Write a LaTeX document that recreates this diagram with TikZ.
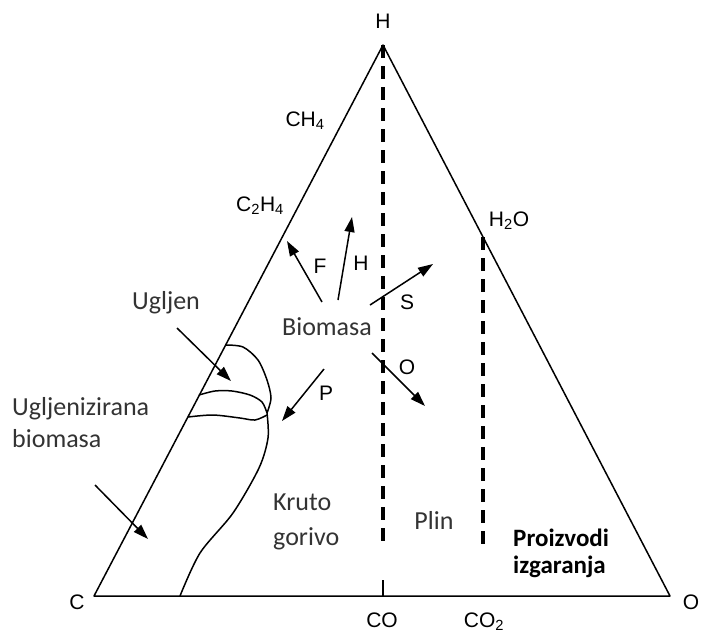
\documentclass[tikz,border=0pt]{standalone}
\usepackage{fontspec}
\setmainfont{Carlito}
\newfontfamily\arialfont{Liberation Sans}
\usetikzlibrary{arrows.meta}

\begin{document}
\begin{tikzpicture}[x=1pt,y=-1pt,
    edge/.style={line width=1.5pt, line join=round},
    sep/.style={line width=3.2pt, dash pattern=on 13pt off 8pt},
    arr/.style={line width=1.5pt, -{Triangle[length=15pt,width=10pt]}},
    lbl/.style={font=\arialfont\fontsize{21}{24}\selectfont, inner sep=0pt},
    txt/.style={font=\fontsize{26}{32}\selectfont, text=black!80, inner sep=0pt, align=left}]
    \useasboundingbox (0,0) rectangle (701,633);

    % Corners of the triangle
    \coordinate (Hv) at (383,45);
    \coordinate (Cv) at (94,596);
    \coordinate (Ov) at (670,596);
    \draw[edge] (Cv) -- (Hv) -- (Ov) -- cycle;

    % Corner labels
    \node[lbl] (hlab) at (383,21) {H};
    \node[lbl] (clab) at (77,602) {C};
    \node[lbl] (olab) at (691,602) {O};

    % Gas points on the sides
    \node[lbl] (ch4) at (305,121) {CH\textsubscript{4}};
    \node[lbl] (c2h4) at (260,206) {C\textsubscript{2}H\textsubscript{4}};
    \node[lbl] (h2o) at (509,221) {H\textsubscript{2}O};
    \coordinate (coTop) at (383,580);
    \coordinate (coBot) at (383,596);
    \draw[edge] (coTop) -- (coBot);
    \node[lbl] (co) at (382,620) {CO};
    \node[lbl] (co2) at (484,622) {CO\textsubscript{2}};

    % Dashed dividing lines
    \coordinate (midBot) at (383,547);
    \coordinate (h2oTop) at (483,237);
    \coordinate (h2oBot) at (483,547);
    \draw[sep] (Hv) -- (midBot);
    \draw[sep] (h2oTop) -- (h2oBot);

    % Solid fuel region
    \draw[edge] plot[smooth] coordinates {(180,596) (200,553) (233,513) (259,468) (268,438) (267,413)};
    \draw[edge] plot[smooth] coordinates {(225,345) (243,347) (258,360) (267,380) (271,398) (267,413)};
    \draw[edge] plot[smooth] coordinates {(199,395) (215,391) (232,391) (250,395) (262,402) (267,413)};
    \draw[edge] plot[smooth] coordinates {(188,417) (213,415) (240,418) (255,420) (267,415)};

    % Region labels
    \node[txt] (biomasa) at (327,327) {Biomasa};
    \node[txt] (ugljen) at (166,303) {Ugljen};
    \node[txt, font=\fontsize{26}{32}\selectfont, anchor=north west] (ugbio) at (12,397) {Ugljenizirana\\biomasa};
    \node[txt, font=\fontsize{26}{35}\selectfont, anchor=north west] (kruto) at (273,494) {Kruto\\gorivo};
    \node[txt] (plin) at (434,520) {Plin};
    \node[txt, font=\bfseries\fontsize{25}{27}\selectfont, text=black, anchor=north west] (proiz) at (513,529) {Proizvodi\\izgaranja};

    % Pointer arrows
    \coordinate (ugA) at (177,328);
    \coordinate (ugB) at (231,381);
    \coordinate (ubA) at (95,485);
    \coordinate (ubB) at (148,539);
    \draw[arr] (ugA) -- (ugB);
    \draw[arr] (ubA) -- (ubB);

    % Conversion arrows from biomass
    \coordinate (fA) at (322,302);
    \coordinate (fB) at (287,241);
    \coordinate (hA) at (338,300);
    \coordinate (hB) at (352,217);
    \coordinate (sA) at (370,305);
    \coordinate (sB) at (433,264);
    \coordinate (oA) at (372,353);
    \coordinate (oB) at (425,406);
    \coordinate (pA) at (324,369);
    \coordinate (pB) at (282,421);
    \draw[arr] (fA) -- (fB);
    \draw[arr] (hA) -- (hB);
    \draw[arr] (sA) -- (sB);
    \draw[arr] (oA) -- (oB);
    \draw[arr] (pA) -- (pB);
    \node[lbl] (flab) at (320,266) {F};
    \node[lbl] (hlab2) at (361,263) {H};
    \node[lbl] (slab) at (407,302) {S};
    \node[lbl] (olab2) at (407,367) {O};
    \node[lbl] (plab) at (326,393) {P};
\end{tikzpicture}
\end{document}
